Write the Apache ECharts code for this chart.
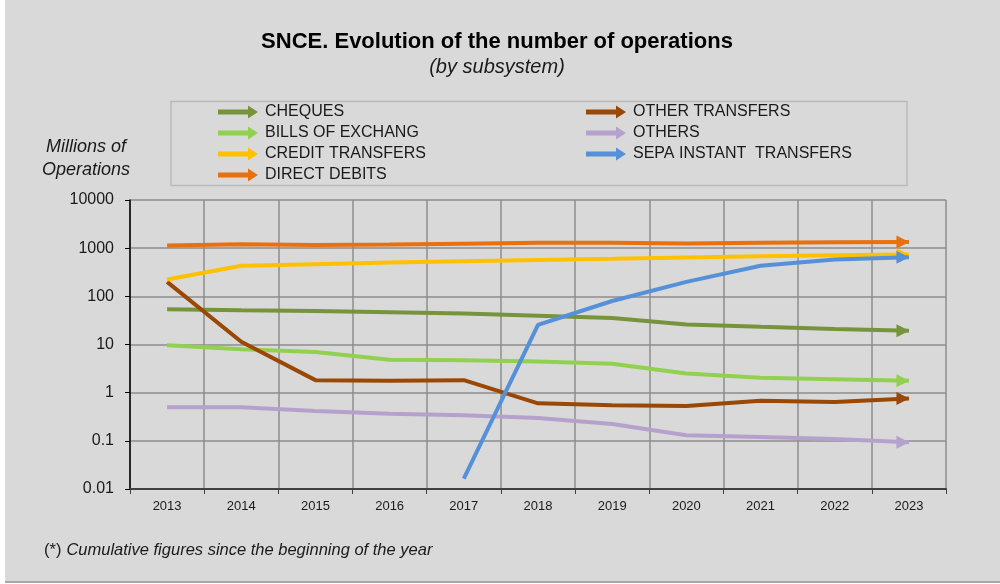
<!DOCTYPE html>
<html>
<head>
<meta charset="utf-8">
<script src="https://cdn.jsdelivr.net/npm/echarts@6/dist/echarts.min.js"></script>
<style>
  html, body { margin: 0; padding: 0; background: #ffffff; }
  #bg { position: absolute; left: 5px; top: 0; width: 995px; height: 581px; background: #d9d9d9; border-bottom: 2px solid #a8a8a8; }
  #chart { position: absolute; left: 0; top: 0; width: 1000px; height: 584px; }
</style>
</head>
<body>
<div id="bg"></div>
<div id="chart"></div>
<script>
const years = ['2013','2014','2015','2016','2017','2018','2019','2020','2021','2022','2023'];
const yTickLabels = ['0.01','0.1','1','10','100','1000','10000'];

const cheques        = [54, 51.5, 49.4, 47, 44, 39.4, 35.3, 26.1, 23.3, 20.9, 19.2];
const billsOfExchange = [9.6, 8.0, 7.0, 4.8, 4.7, 4.45, 3.98, 2.5, 2.04, 1.91, 1.77];
const creditTransfers = [224, 430, 466, 505, 537, 571, 600, 641, 683, 716, 740];
const directDebits   = [1140, 1200, 1170, 1190, 1240, 1290, 1300, 1250, 1300, 1330, 1340];
const otherTransfers = [200, 11.4, 1.82, 1.77, 1.82, 0.60, 0.545, 0.53, 0.68, 0.64, 0.76];
const others         = [0.50, 0.50, 0.415, 0.365, 0.34, 0.297, 0.223, 0.13, 0.12, 0.109, 0.094];
const sepaInstant    = ['-', '-', '-', '-', 0.0164, 25.6, 80, 200, 430, 583, 650];

const FONT = '"Liberation Sans", Arial, Helvetica, sans-serif';
const arrowIcon = 'path://M0,4 L30,4 L30,0 L40,6.5 L30,13 L30,9 L0,9 Z';
const headIcon = 'path://M0,0 L10,5 L0,10 Z';
const lastIdx = years.length - 1;

function mk(name, data, color, z) {
  return {
    name: name,
    type: 'line',
    data: data,
    z: z,
    showSymbol: true,
    showAllSymbol: true,
    symbol: headIcon,
    symbolKeepAspect: false,
    symbolSize: function (v, p) { return p.dataIndex === lastIdx ? [13, 13] : 0; },
    symbolOffset: [-6, 0],
    lineStyle: { color: color, width: 4 },
    itemStyle: { color: color },
    emphasis: { disabled: true },
    silent: true,
    connectNulls: false
  };
}

const chart = echarts.init(document.getElementById('chart'), null, { renderer: 'canvas' });
const legendText = { fontSize: 16, lineHeight: 16, color: '#1a1a1a', fontFamily: FONT, padding: [0, 0, 0, 2] };

chart.setOption({
  animation: false,
  backgroundColor: 'transparent',
  textStyle: { fontFamily: FONT },
  title: [
    { text: 'SNCE. Evolution of the number of operations', left: 497, top: 31, textAlign: 'center',
      padding: 0, textStyle: { fontSize: 22, fontWeight: 'bold', color: '#000', fontFamily: FONT } },
    { text: '(by subsystem)', left: 497, top: 57, textAlign: 'center', padding: 0,
      textStyle: { fontSize: 20, fontStyle: 'italic', fontWeight: 'normal', color: '#1a1a1a', fontFamily: FONT } },
    { text: '{n|(*)} {i|Cumulative figures since the beginning of the year}', left: 44, top: 541, padding: 0,
      textStyle: { fontWeight: 'normal', rich: {
        n: { fontSize: 16.5, fontWeight: 'normal', color: '#1a1a1a', fontFamily: FONT },
        i: { fontSize: 16.5, fontWeight: 'normal', fontStyle: 'italic', color: '#1a1a1a', fontFamily: FONT }
      } } }
  ],
  legend: [
    { data: ['CHEQUES', 'BILLS OF EXCHANG', 'CREDIT TRANSFERS', 'DIRECT DEBITS'],
      orient: 'vertical', left: 218, top: 104, padding: 0, itemWidth: 40, itemHeight: 13, itemGap: 5,
      icon: arrowIcon, textStyle: legendText, selectedMode: false },
    { data: ['OTHER TRANSFERS', 'OTHERS', 'SEPA INSTANT  TRANSFERS'],
      orient: 'vertical', left: 586, top: 104, padding: 0, itemWidth: 40, itemHeight: 13, itemGap: 5,
      icon: arrowIcon, textStyle: legendText, selectedMode: false }
  ],
  graphic: [
    { type: 'rect', shape: { x: 171, y: 101.5, width: 736, height: 84 }, silent: true,
      style: { fill: 'none', stroke: '#bababa', lineWidth: 1.5 } },
    { type: 'text', x: 86, y: 158, silent: true,
      style: { text: 'Millions of\nOperations', fontSize: 18, fontStyle: 'italic', lineHeight: 23,
               fontFamily: FONT, fill: '#1a1a1a', align: 'center', verticalAlign: 'middle' } }
  ],
  grid: { left: 130, right: 54, top: 200, bottom: 95, containLabel: false },
  xAxis: {
    type: 'category',
    data: years,
    boundaryGap: true,
    axisLine: { show: true, lineStyle: { color: '#404040', width: 2 } },
    axisTick: { show: true, inside: false, length: 5, alignWithLabel: false, lineStyle: { color: '#404040', width: 1 } },
    axisLabel: { fontSize: 13, color: '#1a1a1a', margin: 11, fontFamily: FONT },
    splitLine: { show: true, lineStyle: { color: '#8c8c8c', width: 1.5 } }
  },
  yAxis: {
    type: 'log',
    logBase: 10,
    min: 0.01,
    max: 10000,
    axisLine: { show: true, lineStyle: { color: '#000', width: 1.5 } },
    axisTick: { show: true, inside: false, length: 5, lineStyle: { color: '#000', width: 1 } },
    axisLabel: { fontSize: 16, color: '#1a1a1a', margin: 16, fontFamily: FONT,
      formatter: function (v) { return yTickLabels[Math.round(Math.log10(v)) + 2]; } },
    splitLine: { show: true, lineStyle: { color: '#8c8c8c', width: 1.5 } }
  },
  series: [
    mk('OTHERS', others, '#b4a2cc', 2),
    mk('BILLS OF EXCHANG', billsOfExchange, '#92d050', 3),
    mk('CHEQUES', cheques, '#77933c', 4),
    mk('OTHER TRANSFERS', otherTransfers, '#9a4806', 5),
    mk('DIRECT DEBITS', directDebits, '#e8700f', 6),
    mk('CREDIT TRANSFERS', creditTransfers, '#ffc000', 7),
    mk('SEPA INSTANT  TRANSFERS', sepaInstant, '#5590d8', 8)
  ]
});
</script>
</body>
</html>
